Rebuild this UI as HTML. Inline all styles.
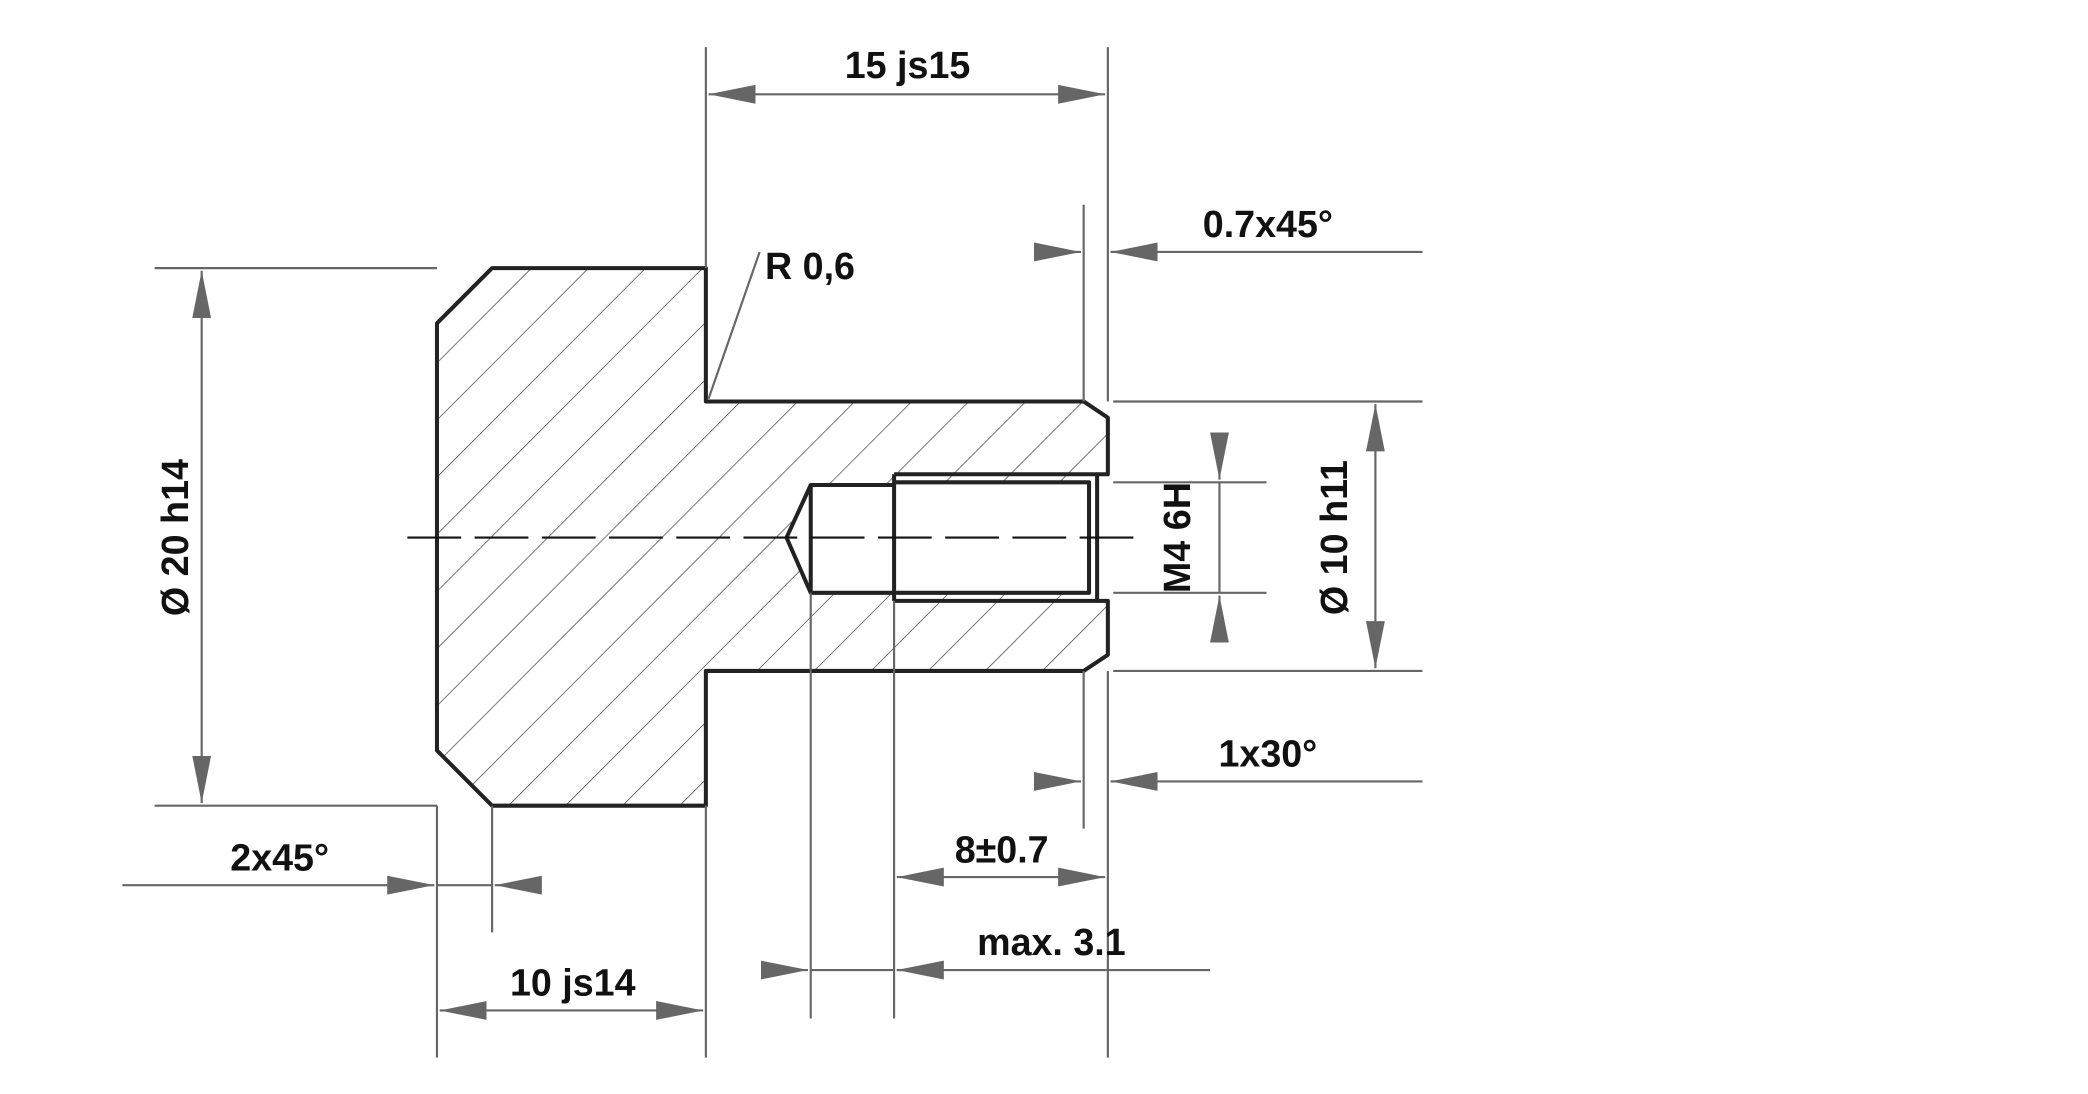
<!DOCTYPE html>
<html><head><meta charset="utf-8"><style>
html,body{margin:0;padding:0;background:#fff;}
svg{display:block;}
text{font-family:"Liberation Sans",Arial,sans-serif;font-weight:bold;font-size:28px;fill:#111;}
</style></head><body>
<svg width="2088" height="1094" viewBox="0 0 1553 812" preserveAspectRatio="none" xmlns="http://www.w3.org/2000/svg">
<defs>
<pattern id="h" patternUnits="userSpaceOnUse" width="30" height="30" patternTransform="rotate(45)">
<line x1="0" y1="0" x2="0" y2="30" stroke="#333" stroke-width="1"/>
</pattern>
<marker id="a" markerWidth="36" markerHeight="16" refX="35" refY="8" orient="auto-start-reverse" markerUnits="userSpaceOnUse">
<path d="M0,1 L35,8 L0,15 Z" fill="#666"/>
</marker>
</defs>
<path d="M325,240 L366,199 L525,199 L525,298 L806,298 L824,310 L824,486 L806,498 L525,498 L525,598 L366,598 L325,557 Z" fill="url(#h)"/>
<path d="M585,399 L603,360 L665,360 L665,352 L824,352 L824,446 L665,446 L665,440 L603,440 Z" fill="#fff"/>
<rect x="665" y="352" width="145" height="6" fill="url(#h)"/>
<rect x="665" y="440" width="145" height="6" fill="url(#h)"/>
<g fill="none" stroke="#222" stroke-width="3" stroke-linejoin="round">
<path d="M325,240 L366,199 L525,199 L525,298 L806,298 L824,310 L824,352 L816,352 L816,446 L824,446 L824,486 L806,498 L525,498 L525,598 L366,598 L325,557 Z"/>
<path d="M665,358 L810,358 L810,440 L665,440"/>
<path d="M665,352 L816,352 M665,446 L816,446 M665,352 L665,446"/>
<path d="M665,360 L603,360 L585,399 L603,440 L665,440"/>
<path d="M603,360 L603,440"/>
</g>
<line x1="303" y1="399" x2="845" y2="399" stroke="#111" stroke-width="1.5" stroke-dasharray="40,10"/>
<g stroke="#666" stroke-width="1.6" fill="none">
<line x1="525" y1="35" x2="525" y2="199"/><line x1="824" y1="35" x2="824" y2="298"/>
<line x1="527" y1="70" x2="822" y2="70" marker-start="url(#a)" marker-end="url(#a)"/>
<line x1="115" y1="199" x2="325" y2="199"/><line x1="115" y1="598" x2="325" y2="598"/>
<line x1="150" y1="201" x2="150" y2="596" marker-start="url(#a)" marker-end="url(#a)"/>
<line x1="527" y1="296" x2="565" y2="187"/>
<line x1="806" y1="152" x2="806" y2="298"/>
<line x1="826" y1="187" x2="1058" y2="187"/>
<line x1="770" y1="187" x2="804" y2="187" marker-end="url(#a)"/>
<line x1="860" y1="187" x2="826" y2="187" marker-end="url(#a)"/>
<line x1="828" y1="298" x2="1058" y2="298"/><line x1="828" y1="498" x2="1058" y2="498"/>
<line x1="1023" y1="300" x2="1023" y2="496" marker-start="url(#a)" marker-end="url(#a)"/>
<line x1="828" y1="358" x2="942" y2="358"/><line x1="828" y1="440" x2="942" y2="440"/>
<line x1="907" y1="322" x2="907" y2="356" marker-end="url(#a)"/>
<line x1="907" y1="476" x2="907" y2="442" marker-end="url(#a)"/>
<line x1="907" y1="358" x2="907" y2="440"/>
<line x1="806" y1="498" x2="806" y2="615"/>
<line x1="826" y1="580" x2="1058" y2="580"/>
<line x1="770" y1="580" x2="804" y2="580" marker-end="url(#a)"/>
<line x1="860" y1="580" x2="826" y2="580" marker-end="url(#a)"/>
<line x1="665" y1="446" x2="665" y2="756"/><line x1="824" y1="498" x2="824" y2="785"/>
<line x1="667" y1="651" x2="822" y2="651" marker-start="url(#a)" marker-end="url(#a)"/>
<line x1="603" y1="440" x2="603" y2="756"/>
<line x1="667" y1="720" x2="900" y2="720"/>
<line x1="568" y1="720" x2="601" y2="720" marker-end="url(#a)"/>
<line x1="603" y1="720" x2="665" y2="720"/>
<line x1="700" y1="720" x2="667" y2="720" marker-end="url(#a)"/>
<line x1="325" y1="598" x2="325" y2="785"/><line x1="525" y1="598" x2="525" y2="785"/>
<line x1="327" y1="750" x2="523" y2="750" marker-start="url(#a)" marker-end="url(#a)"/>
<line x1="366" y1="598" x2="366" y2="692"/>
<line x1="91" y1="657" x2="323" y2="657" marker-end="url(#a)"/>
<line x1="400" y1="657" x2="368" y2="657" marker-end="url(#a)"/>
<line x1="325" y1="657" x2="366" y2="657"/>
</g>
<text x="675" y="58" text-anchor="middle">15 js15</text>
<text x="569" y="207">R 0,6</text>
<text x="943" y="176" text-anchor="middle">0.7x45°</text>
<text x="943" y="569" text-anchor="middle">1x30°</text>
<text x="745" y="640" text-anchor="middle">8±0.7</text>
<text x="782" y="709" text-anchor="middle">max. 3.1</text>
<text x="426" y="739" text-anchor="middle">10 js14</text>
<text x="208" y="646" text-anchor="middle">2x45°</text>
<text transform="translate(140,399) rotate(-90)" text-anchor="middle">Ø 20 h14</text>
<text transform="translate(1002,399) rotate(-90)" text-anchor="middle">Ø 10 h11</text>
<text transform="translate(885,399) rotate(-90)" text-anchor="middle">M4 6H</text>
</svg>
</body></html>
